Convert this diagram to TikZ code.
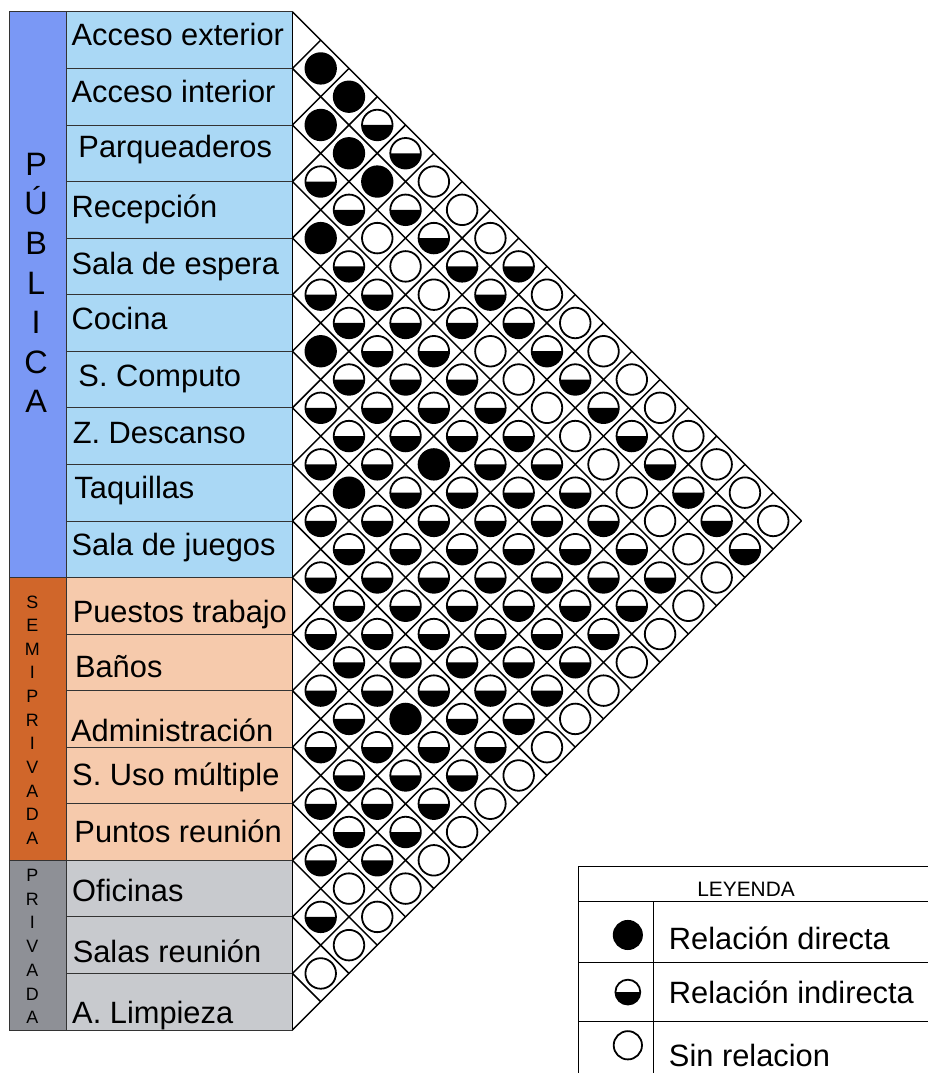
\documentclass[tikz,border=0pt]{standalone}
\usepackage{fontspec}
\setmainfont{Liberation Sans}
\definecolor{pubfuerte}{RGB}{122,152,245}
\definecolor{pubclaro}{RGB}{170,216,245}
\definecolor{semifuerte}{RGB}{208,102,42}
\definecolor{semiclaro}{RGB}{246,202,172}
\definecolor{privfuerte}{RGB}{142,144,150}
\definecolor{privclaro}{RGB}{200,202,206}
\def\relfull(#1)(#2){\draw[line width=0.9pt, fill=black] (#1) circle (#2);}
\def\relhalf(#1)(#2){\fill (#1) ++(#2,0) arc (0:-180:#2) -- cycle; \draw[line width=0.9pt] (#1) circle (#2);}
\def\relnone(#1)(#2){\draw[line width=0.9pt] (#1) circle (#2);}
\tikzset{
  etiqueta/.style={anchor=base west, inner sep=0pt, font=\fontsize{15.5}{18}\selectfont},
  letragrande/.style={anchor=base, inner sep=0pt, font=\fontsize{16.3}{18}\selectfont},
  letrachica/.style={anchor=base, inner sep=0pt, font=\fontsize{9}{10}\selectfont},
}

\begin{document}
\begin{tikzpicture}
			%%%%% START %%%%%
			\useasboundingbox (-5.17,-0.76) rectangle (11.24,18.21);
			
			% zonas
			\draw[fill=pubfuerte, draw=black!80] (-5, 8) rectangle (-4, 18);
			\draw[fill=semifuerte, draw=black!80] (-5, 3) rectangle (-4, 8);
			\draw[fill=privfuerte, draw=black!80] (-5, 0) rectangle (-4, 3);
			\draw[fill=pubclaro, draw=black!80] (-4, 8) rectangle (0, 18);
			\draw[fill=semiclaro, draw=black!80] (-4, 3) rectangle (0, 8);
			\draw[fill=privclaro, draw=black!80] (-4, 0) rectangle (0, 3);
			\foreach \k in {1,...,17}
				\draw[black!80] (-4, \k) -- (0, \k);
			
			\foreach \l [count=\k from 0] in {P,Ú,B,L,I,C,A}
				\node[letragrande] at (-4.53, {15.11-0.70*\k}) {\l};
			\foreach \l [count=\k from 0] in {S,E,M,I,P,R,I,V,A,D,A}
				\node[letrachica] at (-4.60, {7.46-0.418*\k}) {\l};
			\foreach \l [count=\k from 0] in {P,R,I,V,A,D,A}
				\node[letrachica] at (-4.60, {2.63-0.42*\k}) {\l};
			
			% espacios
			\node[etiqueta] (acext) at (-3.91, 17.40) {Acceso exterior};
			\node[etiqueta] (acint) at (-3.91, 16.39) {Acceso interior};
			\node[etiqueta] (parq) at (-3.79, 15.42) {Parqueaderos};
			\node[etiqueta] (recep) at (-3.91, 14.37) {Recepción};
			\node[etiqueta] (espera) at (-3.91, 13.36) {Sala de espera};
			\node[etiqueta] (cocina) at (-3.91, 12.39) {Cocina};
			\node[etiqueta] (comp) at (-3.79, 11.38) {S. Computo};
			\node[etiqueta] (desc) at (-3.89, 10.37) {Z. Descanso};
			\node[etiqueta] (taq) at (-3.86, 9.40) {Taquillas};
			\node[etiqueta] (juegos) at (-3.91, 8.39) {Sala de juegos};
			\node[etiqueta] (puestos) at (-3.89, 7.20) {Puestos trabajo};
			\node[etiqueta] (banos) at (-3.85, 6.23) {Baños};
			\node[etiqueta] (admin) at (-3.92, 5.10) {Administración};
			\node[etiqueta] (usom) at (-3.90, 4.32) {S. Uso múltiple};
			\node[etiqueta] (puntos) at (-3.86, 3.31) {Puntos reunión};
			\node[etiqueta] (ofic) at (-3.90, 2.28) {Oficinas};
			\node[etiqueta] (salas) at (-3.89, 1.19) {Salas reunión};
			\node[etiqueta] (limp) at (-3.90, 0.12) {A. Limpieza};
			
			% rejilla
			\foreach \k in {0,...,18} {
				\draw[line width=0.75pt] (0, \k) -- ++({\k/2}, {-\k/2});
				\draw[line width=0.75pt] (0, \k) -- ++({(18-\k)/2}, {(18-\k)/2});
			}
			\draw[line width=0.75pt] (0, 0) -- (0, 18);
			
			% 0 = sin relacion, 1 = indirecta, 2 = directa
			\foreach \i/\fila in {
				1/{2,2,1,1,0,0,0,1,0,0,0,0,0,0,0,0,0},
				2/{2,2,2,1,1,1,1,1,1,1,1,1,1,1,1,1},
				3/{1,1,0,0,0,1,0,0,0,0,0,0,0,0,0},
				4/{2,1,1,1,1,1,1,1,1,1,1,1,1,0},
				5/{1,1,1,1,1,1,1,1,1,1,1,1,0},
				6/{2,1,1,1,2,1,1,1,1,1,1,0},
				7/{1,1,1,1,1,1,1,1,1,1,0},
				8/{1,2,1,1,1,1,1,1,1,0},
				9/{1,1,1,1,1,1,1,1,0},
				10/{1,1,1,1,1,1,1,0},
				11/{1,1,1,2,1,1,0},
				12/{1,1,1,1,1,0},
				13/{1,1,1,1,0},
				14/{1,1,1,0},
				15/{1,0,0},
				16/{1,0},
				17/{0}} {
				\foreach \v [count=\k] in \fila {
					\pgfmathsetmacro\cx{0.5*\k}
					\pgfmathsetmacro\cy{18.5-\i-0.5*\k}
					\ifcase\v\relax
						\relnone(\cx,\cy)(0.27)
					\or
						\relhalf(\cx,\cy)(0.27)
					\or
						\relfull(\cx,\cy)(0.27)
					\fi
				}
			}
			
			% leyenda
			\draw[line width=0.6pt] (5.06, -0.76) -- (5.06, 2.89) -- (11.24, 2.89);
			\draw[line width=0.6pt] (5.06, 2.27) -- (11.24, 2.27);
			\draw[line width=0.6pt] (5.06, 1.19) -- (11.24, 1.19);
			\draw[line width=0.6pt] (5.06, 0.147) -- (11.24, 0.147);
			\draw[line width=0.6pt] (6.39, 2.27) -- (6.39, -0.76);
			\node[font=\fontsize{10.5}{12}\selectfont] (leyenda) at (8.02, 2.48) {LEYENDA};
			\relfull(5.93,1.68)(0.25)
			\relhalf(5.93,0.67)(0.22)
			\relnone(5.93,-0.27)(0.25)
			\node[etiqueta] (directa) at (6.65, 1.43) {Relación directa};
			\node[etiqueta] (indirecta) at (6.65, 0.46) {Relación indirecta};
			\node[etiqueta] (sinrel) at (6.65, -0.64) {Sin relacion};
			
			%%%%% END %%%%%
\end{tikzpicture}
\end{document}
